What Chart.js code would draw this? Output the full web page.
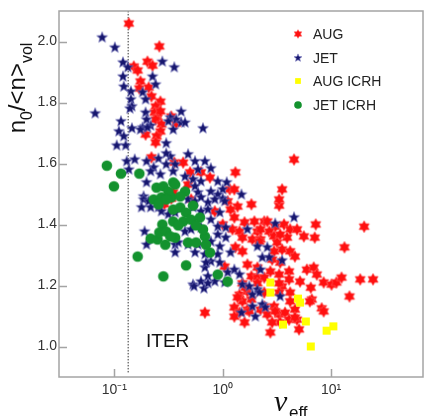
<!DOCTYPE html>
<html>
<head>
<meta charset="utf-8">
<script src="https://cdn.jsdelivr.net/npm/chart.js@4"></script>
<style>
  html, body { margin: 0; padding: 0; background: #fff; }
  canvas { display: block; }
</style>
</head>
<body>
<canvas id="myChart" width="429" height="416"></canvas>
<script>
// values (x = nu_eff, log axis; y = n0/<n>vol)
var seriesNames = ['AUG', 'JET', 'AUG ICRH', 'JET ICRH'];

var augX = [0.136, 0.260, 0.151, 0.164, 0.202, 0.225, 0.174, 0.170, 0.207, 0.220,
  0.266, 0.240, 0.235, 0.250, 0.240, 0.272, 0.266, 0.194, 0.245, 0.240,
  0.335, 0.372, 0.266, 0.220, 0.357, 0.431, 0.500, 0.630, 0.761, 1.31,
  0.479, 1.16, 1.28, 0.349, 0.335, 0.511, 1.11, 1.37, 1.84, 1.18,
  0.845, 1.28, 1.59, 1.96, 2.42, 1.00, 1.23, 1.43, 2.09, 1.52,
  1.88, 2.23, 1.31, 1.52, 1.04, 1.69, 2.09, 1.84, 2.09, 1.52,
  0.289, 0.685, 3.32, 3.53, 3.32, 4.55,
  2.58, 3.05, 3.68, 2.23, 2.69, 4.19, 4.85, 5.61, 2.98, 3.93,
  7.22, 7.07, 20.2, 13.3, 2.18, 3.18, 3.53, 4.19, 2.98, 4.64,
  3.39, 2.86, 2.75, 3.32, 4.10, 5.98, 6.92, 7.38, 5.17, 6.50,
  8.54, 10.1, 11.2, 12.5, 18.6, 24.4, 2.42, 4.10, 3.53, 14.8,
  8.19, 6.64, 3.39,
  1.43, 1.69, 1.52, 1.84, 1.28, 1.43, 1.69, 1.59, 2.09, 2.42,
  2.23, 2.42, 2.58, 2.98, 3.32, 3.76, 3.39, 4.10, 4.85, 5.06,
  2.75, 4.64, 4.19, 3.32, 3.32, 4.19, 6.37, 8.54, 3.05, 4.64,
  2.86, 1.62, 1.37, 1.76, 1.28];
var augY = [2.059, 1.984, 1.918, 1.905, 1.934, 1.921, 1.869, 1.846, 1.849, 1.820,
  1.803, 1.787, 1.767, 1.751, 1.744, 1.728, 1.705, 1.695, 1.689, 1.669,
  1.754, 1.731, 1.771, 1.620, 1.603, 1.603, 1.571, 1.571, 1.554, 1.571,
  1.531, 1.515, 1.515, 1.505, 1.485, 1.482, 1.476, 1.459, 1.466, 1.449,
  1.443, 1.423, 1.407, 1.410, 1.410, 1.400, 1.384, 1.377, 1.377, 1.357,
  1.351, 1.351, 1.325, 1.312, 1.262, 1.269, 1.259, 1.230, 1.226, 1.207,
  1.466, 1.111, 1.462, 1.515, 1.482, 1.613,
  1.410, 1.393, 1.400, 1.384, 1.377, 1.384, 1.384, 1.361, 1.361, 1.357,
  1.400, 1.357, 1.393, 1.325, 1.344, 1.341, 1.318, 1.312, 1.312, 1.295,
  1.275, 1.285, 1.246, 1.236, 1.246, 1.252, 1.259, 1.236, 1.213, 1.193,
  1.210, 1.203, 1.210, 1.226, 1.220, 1.220, 1.226, 1.220, 1.197, 1.164,
  1.125, 1.154, 1.367,
  1.170, 1.180, 1.148, 1.154, 1.128, 1.111, 1.121, 1.079, 1.207, 1.177,
  1.121, 1.131, 1.105, 1.131, 1.105, 1.111, 1.079, 1.088, 1.088, 1.056,
  1.046, 1.121, 1.177, 1.207, 1.177, 1.148, 1.148, 1.115, 1.115, 1.095,
  1.079, 1.193, 1.161, 1.115, 1.098];

var jetX = [0.0771, 0.101, 0.277, 0.357, 0.120, 0.133, 0.120, 0.225, 0.122, 0.240,
  0.142, 0.182, 0.142, 0.194, 0.145, 0.0664, 0.194, 0.139, 0.413, 0.328,
  0.372, 0.413, 0.449, 0.182, 0.115, 0.110, 0.122, 0.145, 0.174, 0.105,
  0.127, 0.301, 0.315, 0.349, 0.657, 0.216, 0.198, 0.202,
  0.479, 0.555, 0.685, 0.328, 0.364, 0.349, 0.591, 0.777, 0.449, 0.532,
  0.630, 0.900, 1.088, 0.555, 1.00, 1.49, 0.591, 0.777, 0.900, 0.130,
  0.154, 0.136, 0.198, 0.255, 0.301, 0.230, 0.266, 0.216, 0.301, 0.198,
  0.186, 1.00,
  0.479, 0.555, 0.630, 0.730, 0.845, 1.043, 0.532, 0.630, 0.730, 0.939,
  0.777, 0.630, 0.900, 1.065, 0.449, 0.510, 1.69, 0.900, 1.065, 0.777,
  0.591, 0.479, 0.555, 0.685, 0.939, 1.18, 0.900, 0.777, 0.939, 0.685,
  1.11, 1.28, 1.43, 0.532, 0.630, 0.845, 1.043, 0.186, 0.207, 0.178,
  0.216, 0.255, 0.272, 0.315, 0.364, 0.190, 0.198, 0.364, 0.364, 0.388,
  0.700, 0.730, 0.543, 0.671, 0.730, 1.52, 1.76, 2.09, 1.88, 1.49,
  2.00, 2.32, 4.55, 3.05, 3.53, 2.09, 2.58, 2.32, 2.69, 2.23,
  1.88, 2.47, 3.39, 2.18];
var jetY = [2.013, 1.980, 1.934, 1.915, 1.931, 1.915, 1.885, 1.885, 1.852, 1.859,
  1.836, 1.833, 1.810, 1.810, 1.787, 1.764, 1.767, 1.780, 1.770, 1.751,
  1.744, 1.734, 1.734, 1.718, 1.738, 1.705, 1.689, 1.715, 1.711, 1.659,
  1.659, 1.666, 1.738, 1.711, 1.715, 1.724, 1.744, 1.718,
  1.630, 1.607, 1.607, 1.623, 1.597, 1.574, 1.580, 1.584, 1.557, 1.548,
  1.541, 1.541, 1.538, 1.525, 1.515, 1.498, 1.505, 1.508, 1.498, 1.607,
  1.613, 1.580, 1.607, 1.616, 1.633, 1.587, 1.564, 1.574, 1.597, 1.538,
  1.492, 1.485,
  1.482, 1.476, 1.489, 1.472, 1.482, 1.476, 1.456, 1.443, 1.449, 1.439,
  1.416, 1.390, 1.393, 1.390, 1.377, 1.384, 1.384, 1.367, 1.357, 1.344,
  1.334, 1.334, 1.308, 1.302, 1.328, 1.308, 1.302, 1.279, 1.275, 1.259,
  1.243, 1.252, 1.236, 1.203, 1.213, 1.213, 1.210, 1.482, 1.476, 1.456,
  1.456, 1.456, 1.443, 1.433, 1.439, 1.377, 1.334, 1.334, 1.308, 1.341,
  1.275, 1.230, 1.197, 1.190, 1.207, 1.203, 1.197, 1.187, 1.131, 1.111,
  1.098, 1.138, 1.423, 1.403, 1.282, 1.328, 1.325, 1.292, 1.292, 1.252,
  1.170, 1.128, 1.164, 1.177];

var augIcrhX = [2.75, 2.75, 4.95, 5.17, 3.60, 5.85, 9.10, 10.5, 6.50];
var augIcrhY = [1.210, 1.177, 1.157, 1.144, 1.072, 1.082, 1.052, 1.066, 1.000];

var jetIcrhX = [0.0852, 0.115, 0.170, 0.099, 0.164, 0.283, 0.459, 0.277, 0.216, 0.250,
  0.295, 0.364, 0.761, 0.230, 0.272, 0.335, 0.255, 0.260, 0.301, 0.349,
  0.349, 0.405, 0.459, 0.431, 0.510, 0.616, 0.328, 0.479, 0.567, 0.685,
  0.700, 0.657, 0.900, 1.11, 0.349, 0.449, 0.245, 0.283, 0.315, 0.364,
  0.405, 0.301, 0.532, 0.388, 0.567];
var jetIcrhY = [1.593, 1.567, 1.567, 1.525, 1.295, 1.230, 1.266, 1.400, 1.354, 1.351,
  1.334, 1.357, 1.308, 1.482, 1.489, 1.489, 1.466, 1.374, 1.377, 1.410,
  1.449, 1.456, 1.439, 1.410, 1.416, 1.423, 1.361, 1.341, 1.341, 1.361,
  1.334, 1.384, 1.236, 1.213, 1.538, 1.508, 1.521, 1.525, 1.508, 1.531,
  1.492, 1.482, 1.462, 1.397, 1.397];

// ITER line
var iterX = [0.134, 0.134];
var iterY = [0.915, 2.1];

var xTicks = [0.1, 1, 10];
var xTickLabels = ['10\u207B\u00B9', '10\u2070', '10\u00B9'];
var yTicks = [1.0, 1.2, 1.4, 1.6, 1.8, 2.0];

function toPoints(xs, ys) {
  return xs.map(function (x, i) { return { x: x, y: ys[i] }; });
}

function starPath(g, cx, cy, n, R, r) {
  g.beginPath();
  for (var i = 0; i < 2 * n; i++) {
    var a = -Math.PI / 2 + i * Math.PI / n;
    var rad = (i % 2) ? r : R;
    g.lineTo(cx + rad * Math.cos(a), cy + rad * Math.sin(a));
  }
  g.closePath();
}

function makeMarker(kind, s) {
  var c = document.createElement('canvas');
  c.width = 14; c.height = 14;
  var g = c.getContext('2d');
  if (kind === 'aug') {
    starPath(g, 7, 7, 6, 6.0 * s, 3.6 * s);
    g.fillStyle = '#ff1010';
    g.fill();
    g.strokeStyle = 'rgba(255,100,100,0.75)';
    g.lineWidth = 0.8;
    g.stroke();
  } else if (kind === 'jet') {
    starPath(g, 7, 7, 5, 5.7 * s, 2.5 * s);
    g.fillStyle = '#16166e';
    g.fill();
    g.strokeStyle = 'rgba(120,120,190,0.8)';
    g.lineWidth = 0.8;
    g.stroke();
  } else if (kind === 'augicrh') {
    g.fillStyle = '#ffff00';
    var h = 4 * s;
    g.fillRect(7 - h, 7 - h, 2 * h, 2 * h);
  } else {
    g.beginPath();
    g.arc(7, 7, 5.3 * s, 0, Math.PI * 2);
    g.fillStyle = '#13922e';
    g.fill();
  }
  return c;
}

var markers = [makeMarker('aug', 1), makeMarker('jet', 1), makeMarker('augicrh', 1), makeMarker('jeticrh', 1)];
var legendMarkers = [makeMarker('aug', 0.72), makeMarker('jet', 0.72), makeMarker('augicrh', 0.72), makeMarker('jeticrh', 0.72)];

var decorations = {
  id: 'decorations',
  afterDatasetsDraw: function (chart) {
    var ctx = chart.ctx, a = chart.chartArea;
    var xs = chart.scales.x, ys = chart.scales.y;
    ctx.save();
    // frame and inner ticks
    ctx.strokeStyle = '#a4a4a4';
    ctx.lineWidth = 1.5;
    ctx.strokeRect(a.left, a.top, a.right - a.left, a.bottom - a.top);
    ctx.beginPath();
    xTicks.forEach(function (v) {
      var px = Math.round(xs.getPixelForValue(v)) + 0.5;
      ctx.moveTo(px, a.bottom); ctx.lineTo(px, a.bottom - 8);
    });
    yTicks.forEach(function (v) {
      var py = Math.round(ys.getPixelForValue(v)) + 0.5;
      ctx.moveTo(a.left, py); ctx.lineTo(a.left + 8, py);
    });
    ctx.stroke();

    // ITER label
    ctx.fillStyle = '#111';
    ctx.font = '19px "Liberation Sans", Arial, sans-serif';
    ctx.textBaseline = 'alphabetic';
    ctx.textAlign = 'left';
    ctx.fillText('ITER', 146, 347);

    // legend
    ctx.font = '14px "Liberation Sans", Arial, sans-serif';
    ctx.textBaseline = 'middle';
    ctx.fillStyle = '#222';
    var rows = [34, 58, 81, 105];
    seriesNames.forEach(function (name, i) {
      var m = legendMarkers[i];
      ctx.drawImage(m, 298 - m.width / 2, rows[i] - m.height / 2);
      ctx.fillText(name, 313, rows[i] + 1);
    });

    // x title
    ctx.textBaseline = 'alphabetic';
    ctx.fillStyle = '#111';
    ctx.font = 'italic 30px "Liberation Serif", "DejaVu Serif", serif';
    ctx.fillText('\u03BD', 274, 411);
    ctx.font = '17px "Liberation Sans", Arial, sans-serif';
    ctx.fillText('eff', 289, 418);

    // y title, rotated
    ctx.translate(25, 88);
    ctx.rotate(-Math.PI / 2);
    var big = '24px "Liberation Sans", Arial, sans-serif';
    var small = '16px "Liberation Sans", Arial, sans-serif';
    var parts = [['n', big, 0], ['0', small, 7], ['/<n>', big, 0], ['vol', small, 7]];
    var total = 0;
    parts.forEach(function (p) { ctx.font = p[1]; total += ctx.measureText(p[0]).width; });
    var pos = -total / 2;
    parts.forEach(function (p) {
      ctx.font = p[1];
      ctx.fillText(p[0], pos, p[2]);
      pos += ctx.measureText(p[0]).width;
    });
    ctx.restore();
  }
};

var ctx = document.getElementById('myChart').getContext('2d');
var chart = new Chart(ctx, {
  type: 'scatter',
  data: {
    datasets: [{
      label: 'JET ICRH',
      data: toPoints(jetIcrhX, jetIcrhY),
      pointStyle: markers[3],
      pointRadius: 5,
      order: 1
    }, {
      label: 'AUG ICRH',
      data: toPoints(augIcrhX, augIcrhY),
      pointStyle: markers[2],
      pointRadius: 5,
      order: 2
    }, {
      label: 'JET',
      data: toPoints(jetX, jetY),
      pointStyle: markers[1],
      pointRadius: 5,
      order: 3
    }, {
      label: 'AUG',
      data: toPoints(augX, augY),
      pointStyle: markers[0],
      pointRadius: 5,
      order: 4
    }, {
      label: 'ITER',
      data: toPoints(iterX, iterY),
      showLine: true,
      pointRadius: 0,
      borderColor: '#333',
      borderWidth: 1,
      borderDash: [1.5, 1.5],
      order: 5
    }]
  },
  options: {
    responsive: false,
    animation: false,
    devicePixelRatio: 1,
    events: [],
    layout: { padding: { top: 11, right: 2, left: 0, bottom: 0 } },
    plugins: {
      legend: { display: false },
      tooltip: { enabled: false }
    },
    scales: {
      x: {
        type: 'logarithmic',
        min: 0.0308,
        max: 70.6,
        grid: { display: false, drawTicks: false },
        border: { display: false },
        afterBuildTicks: function (scale) {
          scale.ticks = xTicks.map(function (v) { return { value: v }; });
        },
        afterFit: function (scale) { scale.height = 39; },
        ticks: {
          autoSkip: false,
          maxRotation: 0,
          padding: 5,
          color: '#333',
          font: { family: '"Liberation Sans", Arial, sans-serif', size: 14 },
          callback: function (v) {
            var i = xTicks.indexOf(v);
            return i >= 0 ? xTickLabels[i] : '';
          }
        }
      },
      y: {
        min: 0.9,
        max: 2.1,
        grid: { display: false, drawTicks: false },
        border: { display: false },
        afterBuildTicks: function (scale) {
          scale.ticks = yTicks.map(function (v) { return { value: v }; });
        },
        afterFit: function (scale) { scale.width = 59; },
        ticks: {
          padding: 2,
          color: '#333',
          font: { family: '"Liberation Sans", Arial, sans-serif', size: 14 },
          callback: function (v) { return v.toFixed(1); }
        }
      }
    }
  },
  plugins: [decorations]
});
</script>
</body>
</html>
